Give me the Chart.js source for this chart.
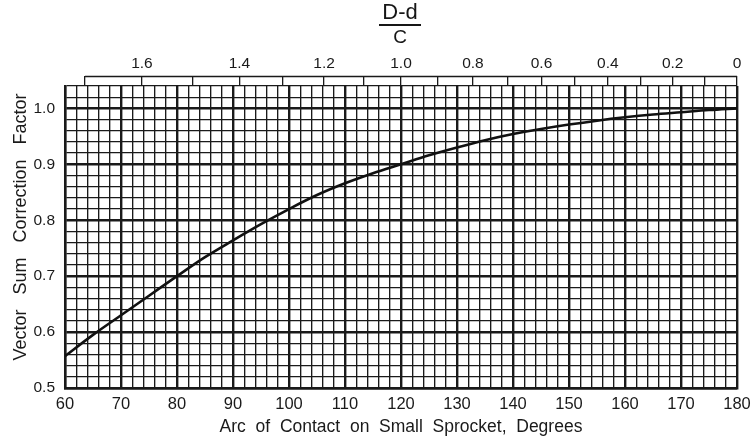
<!DOCTYPE html>
<html><head><meta charset="utf-8">
<script src="https://cdn.jsdelivr.net/npm/chart.js@4"></script>
<style>
html,body{margin:0;padding:0;background:#fff;}
#wrap{position:relative;width:753px;height:438px;}
#c{position:absolute;left:0;top:0;}
.frac{position:absolute;left:377px;top:1px;width:46px;text-align:center;font-family:"Liberation Sans",Arial,sans-serif;color:#161616;line-height:1;}
.frac .num{display:block;font-size:22px;border-bottom:2px solid #161616;padding-bottom:1px;margin:0 2px;}
.frac .den{display:block;font-size:19px;padding-top:1px;}
</style>
</head><body>
<div id="wrap">
<canvas id="c" width="753" height="438"></canvas>
<div class="frac"><span class="num">D-d</span><span class="den">C</span></div>
</div>
<script>
// Arc of contact (degrees) and vector sum correction factor
const arcDegrees = [60,65,70,75,80,85,90,95,100,105,110,115,120,125,130,135,140,145,150,155,160,165,170,175,180];
const correctionFactor = [0.557,0.595,0.630,0.665,0.700,0.734,0.764,0.793,0.820,0.845,0.866,0.884,0.900,0.916,0.930,0.943,0.954,0.963,0.971,0.978,0.984,0.989,0.993,0.997,1.000];
// Bottom / left tick labels
const arcTickLabels = ['60','70','80','90','100','110','120','130','140','150','160','170','180'];
const factorTickLabels = ['0.5','0.6','0.7','0.8','0.9','1.0'];
// Top (D-d)/C scale
const ratioTicks = [1.7,1.6,1.5,1.4,1.3,1.2,1.1,1.0,0.9,0.8,0.7,0.6,0.5,0.4,0.3,0.2,0.1,0];
const ratioTickLabels = ['','1.6','','1.4','','1.2','','1.0','','0.8','','0.6','','0.4','','0.2','','0'];

const X_MIN = 60, X_MAX = 180, X_STEP = 2;
const Y_MIN = 0.5, Y_MAX = 1.04, Y_STEP = 0.02;
const ink = '#1a1a1a';
const FONT = '"Liberation Sans", Arial, sans-serif';

function ratioToArc(r){ return 180 - 2*Math.asin(r/2)*180/Math.PI; }

const stripPlugin = {
  id:'strip',
  afterDraw(chart){
    const s = chart.scales.x2, ca = chart.chartArea;
    const tl = chart.options.scales.x2.grid.tickLength;
    const x0 = s.getPixelForValue(ratioToArc(ratioTicks[0]));
    const x1 = s.getPixelForValue(ratioToArc(ratioTicks[ratioTicks.length-1]));
    const ctx = chart.ctx;
    ctx.save();
    ctx.strokeStyle = ink; ctx.lineWidth = 1.3;
    ctx.beginPath(); ctx.moveTo(x0, ca.top - tl + 0.5); ctx.lineTo(x1, ca.top - tl + 0.5); ctx.stroke();
    ctx.restore();
  }
};

new Chart(document.getElementById('c'), {
  type:'line',
  data:{
    datasets:[{
      data: arcDegrees.map((a,i)=>({x:a, y:correctionFactor[i]})),
      borderColor:'#111', borderWidth:2.6, pointRadius:0, cubicInterpolationMode:'monotone', fill:false, xAxisID:'x', yAxisID:'y'
    }]
  },
  options:{
    responsive:false, animation:false, devicePixelRatio:1,
    layout:{padding:{left:0,right:16,top:0,bottom:0}},
    plugins:{legend:{display:false}, tooltip:{enabled:false}},
    scales:{
      x:{
        type:'linear', position:'bottom', min:X_MIN, max:X_MAX,
        afterBuildTicks(s){ const t=[]; for(let k=0;k<=(X_MAX-X_MIN)/X_STEP;k++) t.push({value:X_MIN+k*X_STEP}); s.ticks=t; },
        afterFit(s){ s.height = 50; s.paddingLeft = 0; s.paddingRight = 0; },
        ticks:{autoSkip:false, maxRotation:0, padding:7, color:ink, font:{family:FONT,size:16.5},
          callback(v,i){ return i%5===0 ? arcTickLabels[i/5] : ''; }},
        grid:{drawTicks:false, color:ink, lineWidth:(c)=> (c.index%5===0 ? 2.4 : 1.35)},
        border:{display:true, color:ink, width:2.4},
        title:{display:true, text:'Arc  of  Contact  on  Small  Sprocket,  Degrees', color:ink, font:{family:FONT,size:17.5}, padding:{top:0,bottom:0}}
      },
      x2:{
        type:'linear', position:'top', min:X_MIN, max:X_MAX,
        afterBuildTicks(s){ s.ticks = ratioTicks.map(r=>({value:ratioToArc(r)})); },
        afterFit(s){ s.height = 86; s.paddingLeft = 0; s.paddingRight = 0; },
        ticks:{autoSkip:false, maxRotation:0, padding:3, color:ink, font:{family:FONT,size:15.5},
          callback(v,i){ return ratioTickLabels[i]; }},
        grid:{drawOnChartArea:false, drawTicks:true, tickLength:10, color:ink, lineWidth:1.3},
        border:{display:false}
      },
      y:{
        type:'linear', position:'left', min:Y_MIN, max:Y_MAX,
        afterBuildTicks(s){ const t=[]; const n=Math.round((Y_MAX-Y_MIN)/Y_STEP); for(let k=0;k<=n;k++) t.push({value:Math.round((Y_MIN+k*Y_STEP)*100)/100}); s.ticks=t; },
        afterFit(s){ s.width = 65; },
        ticks:{autoSkip:false, padding:10, color:ink, font:{family:FONT,size:15.5},
          callback(v,i){ return i%5===0 ? factorTickLabels[i/5] : ''; }},
        grid:{drawTicks:false, color:ink, lineWidth:(c)=> (c.index%5===0 ? 2.4 : 1.35)},
        border:{display:true, color:ink, width:2.4},
        title:{display:true, text:'    Vector   Sum   Correction   Factor', color:ink, font:{family:FONT,size:18}, padding:{top:10,bottom:0}}
      }
    }
  },
  plugins:[stripPlugin]
});
</script>
</body></html>
